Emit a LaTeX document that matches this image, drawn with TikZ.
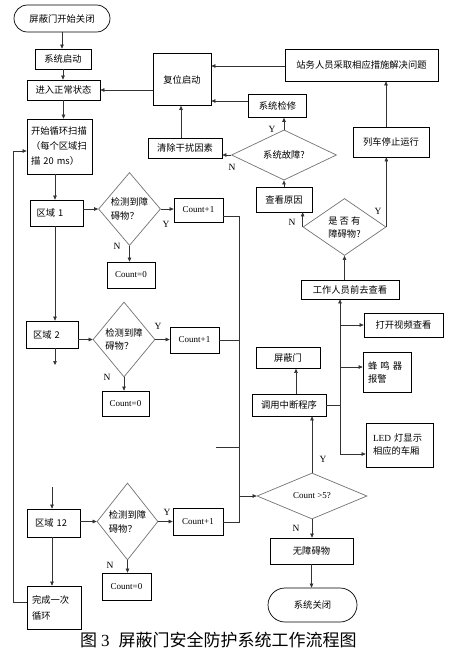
\documentclass[tikz,border=0pt]{standalone}
\usepackage{fontspec}
\setmainfont{Liberation Serif}
\newfontfamily\cjk{Noto Sans CJK SC}
\usetikzlibrary{shapes.geometric,arrows.meta}
\begin{document}
\begin{tikzpicture}[x=1pt,y=-1pt,
 bx/.style 2 args={rectangle, draw=black, line width=0.7pt, minimum width=#1, minimum height=#2, inner sep=1pt},
 dia/.style 2 args={diamond, draw=black!55, line width=0.7pt, minimum width=#1, minimum height=#2, inner sep=0pt},
 cn/.style={font=\cjk\fontsize{9.3}{13}\selectfont},
 en/.style={font=\fontsize{9}{11}\selectfont},
 lab/.style={font=\fontsize{9.5}{11}\selectfont, inner sep=0pt},
 ar/.style={draw=black!80, line width=0.6pt, -{Triangle[length=4pt,width=3.5pt]}},
 ln/.style={draw=black!80, line width=0.6pt},
]
\useasboundingbox (0,0) rectangle (452,658);
\fill[white] (0,0) rectangle (452,658);

% main column
\node[bx={96}{27}, rounded corners=13.5pt, cn] (start) at (62,18.5) {屏蔽门开始关闭};
\node[bx={56}{20}, cn] (qidong) at (63,59) {系统启动};
\node[bx={73}{20}, cn] (zhengchang) at (63.5,90) {进入正常状态};
\node[bx={65}{55}, cn, text width=57, align=left, font=\cjk\fontsize{9.3}{15}\selectfont] (kaishi) at (59.5,146.5) {开始循环扫描\\（每个区域扫\\描 20 ms）};

% upper right
\node[bx={58}{52}, cn] (fuwei) at (182,79.5) {复位启动};
\node[bx={74}{20}, cn] (qingchu) at (185,148) {清除干扰因素};
\node[bx={58}{23}, cn] (jianxiu) at (277.5,106) {系统检修};
\node[bx={153}{32}, cn] (zhanwu) at (361.5,65) {站务人员采取相应措施解决问题};
\node[dia={105}{39}, cn] (guzhang) at (284,155) {系统故障?};
\node[bx={76}{30}, cn] (tingzhi) at (391,142) {列车停止运行};
\node[bx={56}{25}, cn] (chakan) at (284,199.5) {查看原因};
\node[dia={83}{57}, cn, align=left] (zhangai) at (344.5,227) {是 否 有\\障碍物?};
\node[bx={98}{19}, cn] (qianqu) at (350,289.5) {工作人员前去查看};
\node[bx={79}{24}, cn] (shipin) at (403.5,325) {打开视频查看};
\node[bx={48}{40}, cn, text width=38, align=left] (fengming) at (387,372) {蜂 鸣 器\\报警};
\node[bx={64}{21}, cn] (pingbi) at (288,358) {屏蔽门};
\node[bx={74}{22}, cn] (zhongduan) at (289,405) {调用中断程序};
\node[bx={67}{44}, cn, text width=53, align=left] (led) at (399.5,445) {{\rmfamily LED} 灯显示\\相应的车厢};
\node[dia={110}{46}, en] (count5) at (312,496) {Count >5?};
\node[bx={83}{26}, cn] (wu) at (311.5,551) {无障碍物};
\node[bx={89}{34}, rounded corners=17pt, cn] (end) at (312.5,605) {系统关闭};

% zones
\node[bx={53}{26}, cn, text width=40, align=left] (qy1) at (56.5,213) {区域 1};
\node[dia={62}{73}, cn, align=left, font=\cjk\fontsize{9.3}{14}\selectfont] (d1) at (129.5,209) {检测到障\\碍物？};
\node[bx={49}{24}, en] (c1p) at (198.5,210) {Count+1};
\node[bx={48}{26}, en] (c10) at (131,275) {Count=0};

\node[bx={52}{27}, cn, text width=38, align=left] (qy2) at (52,334.5) {区域 2};
\node[dia={62}{75}, cn, align=left] (d2) at (124,339.5) {检测到障\\碍物？};
\node[bx={49}{26}, en] (c2p) at (194.5,340) {Count+1};
\node[bx={47}{25}, en] (c20) at (125.5,403.5) {Count=0};

\node[bx={53}{28}, cn, text width=37, align=left] (qy12) at (53.5,523) {区域 12};
\node[dia={61}{77}, cn, align=left, font=\cjk\fontsize{9.3}{14}\selectfont] (d3) at (127.5,521.5) {检测到障\\碍物？};
\node[bx={50}{27}, en] (c3p) at (198,521.5) {Count+1};
\node[bx={49}{27}, en] (c30) at (126.5,586.5) {Count=0};
\node[bx={54}{43}, cn, text width=44, align=left, font=\cjk\fontsize{9.3}{16}\selectfont] (wancheng) at (54,607.5) {完成一次\\循环};

% caption
\node[anchor=west, inner sep=0pt, font=\fontsize{17}{20}\selectfont] (cap) at (80,640) {{\cjk 图}\hspace{4pt}3\hspace{9pt}{\cjk 屏蔽门安全防护系统工作流程图}};

% Y / N labels
\node[lab] (ly1) at (272,129) {Y};
\node[lab] (ln1) at (232,167) {N};
\node[lab] (ln2) at (292,222) {N};
\node[lab] (ly2) at (378,211) {Y};
\node[lab] (ly3) at (323,459) {Y};
\node[lab] (ln3) at (296,528) {N};
\node[lab] (ly4) at (166,224) {Y};
\node[lab] (ln4) at (117,246) {N};
\node[lab] (ly5) at (158,326) {Y};
\node[lab] (ln5) at (107,377) {N};
\node[lab] (ly6) at (167,512) {Y};
\node[lab] (ln6) at (110,565) {N};

% coordinates
\coordinate (loopA) at (13,602);
\coordinate (loopB) at (13,151);
\coordinate (bj) at (340,405);
\coordinate (bl) at (340,454);
\coordinate (colT) at (239,216);
\coordinate (colB) at (239,522);
\coordinate (stub) at (216,447);
\coordinate (dang) at (55,365);
\coordinate (inc) at (52,487);

% main connectors
\draw[ar] (start.south) -- (start.south |- qidong.north);
\draw[ar] (qidong.south) -- (qidong.south |- zhengchang.north);
\draw[ar] (zhengchang.south) -- (zhengchang.south |- kaishi.north);
\draw[ar] (fuwei.west |- zhengchang.east) -- (zhengchang.east);
\draw[ar] ([xshift=-4pt]qingchu.north) -- ([xshift=-4pt]qingchu.north |- fuwei.south);
\draw[ar] (zhanwu.west |- 0,66) -- (fuwei.east |- 0,66);
\draw[ar] (jianxiu.west |- 0,101) -- (fuwei.east |- 0,101);
\draw[ar] (guzhang.north) -- (guzhang.north |- jianxiu.south);
\draw[ar] (guzhang.west) -- (guzhang.west -| qingchu.east);
\draw[ar] (chakan.north) -- (guzhang.south);
\draw[ar] (386,0 |- tingzhi.north) -- (386,0 |- zhanwu.south);
\draw[ar] (zhangai.east) -- (zhangai.east |- tingzhi.south);
\draw[ar] (zhangai.west) -- (zhangai.west |- chakan.south);
\draw[ar] (zhangai.south |- qianqu.north) -- (zhangai.south);

% bus at x=340
\draw[ln] (zhongduan.east |- bj) -- (bj);
\draw[ar] (bj) -- (bj |- qianqu.south);
\draw[ar] (bj |- shipin.west) -- (shipin.west);
\draw[ar] (bj |- 0,367) -- (fengming.west |- 0,367);
\draw[ar] (bj) -- (bl) -- (led.west |- bl);
\draw[ar] (296,0 |- zhongduan.north) -- (296,0 |- pingbi.south);
\draw[ar] (count5.north) -- (count5.north |- zhongduan.south);
\draw[ar] (count5.south) -- (count5.south |- wu.north);
\draw[ar] (wu.south) -- (wu.south |- end.north);

% collector
\draw[ln] (c1p.east |- colT) -- (colT) -- (colB) -- (c3p.east |- colB);
\draw[ln] (c2p.east) -- (colT |- c2p.east);
\draw[ln] (stub) -- (colT |- stub);
\draw[ar] (colT |- count5.west) -- (count5.west);

% zone 1
\draw[ar] (55,0 |- kaishi.south) -- (55,0 |- qy1.north);
\draw[ar] (qy1.east |- d1.west) -- (d1.west);
\draw[ar] (d1.east) -- (d1.east -| c1p.west);
\draw[ar] (d1.south) -- (d1.south |- c10.north);
\draw[ar] (55,0 |- qy1.south) -- (55,0 |- qy2.north);
% zone 2
\draw[ar] (qy2.east |- d2.west) -- (d2.west);
\draw[ar] (d2.east) -- (d2.east -| c2p.west);
\draw[ar] (d2.south) -- (d2.south |- c20.north);
\draw[ar] (dang |- qy2.south) -- (dang);
% zone 12
\draw[ar] (inc) -- (inc |- qy12.north);
\draw[ar] (qy12.east |- d3.west) -- (d3.west);
\draw[ar] (d3.east) -- (d3.east -| c3p.west);
\draw[ar] (d3.south) -- (d3.south |- c30.north);
\draw[ar] (inc |- qy12.south) -- (inc |- wancheng.north);
% loop
\draw[ar] (wancheng.west |- loopA) -- (loopA) -- (loopB) -- (kaishi.west |- loopB);
\end{tikzpicture}
\end{document}
